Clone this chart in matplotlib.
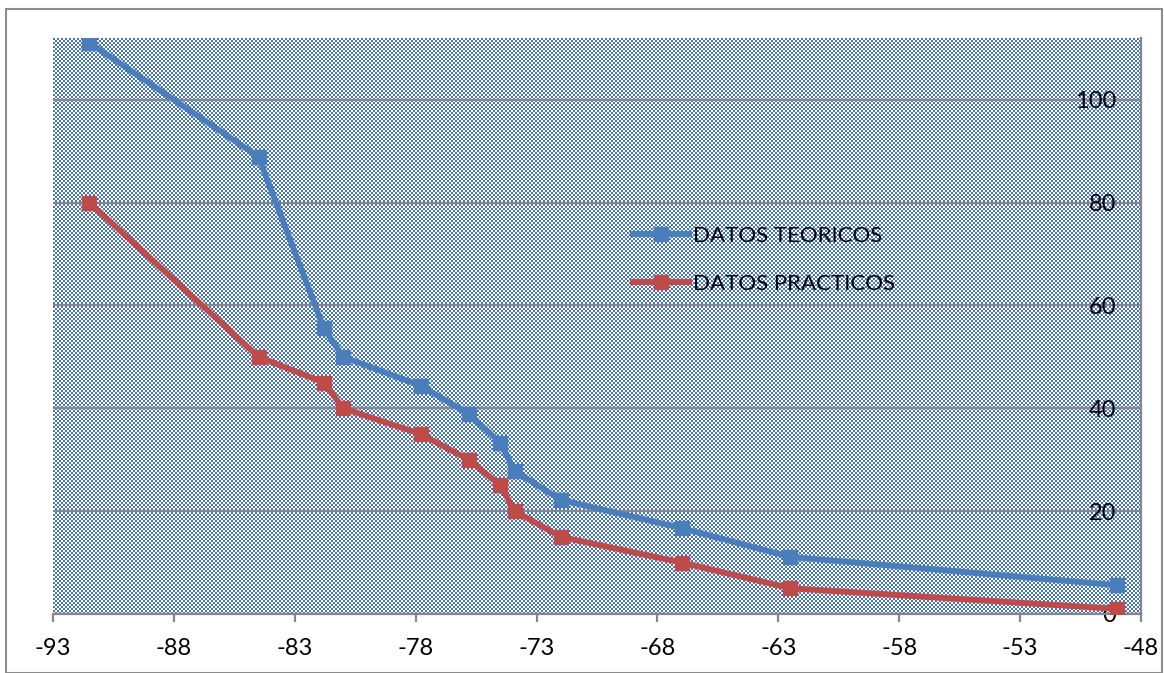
import numpy as np
import matplotlib.pyplot as plt

# readings (x in dBm-like units, y values)
x_vals = [-91.5, -84.5, -81.8, -81.0, -77.8, -75.8, -74.5, -73.9, -72.0, -67.0, -62.5, -49.0]
teoricos = [111.1, 88.9, 55.6, 50.0, 44.4, 38.9, 33.3, 27.8, 22.2, 16.7, 11.1, 5.6]
practicos = [80, 50, 45, 40, 35, 30, 25, 20, 15, 10, 5, 1]

x_ticks = list(range(-93, -47, 5))
y_ticks = [0, 20, 40, 60, 80, 100]

plt.rcParams['font.family'] = ['Lato', 'DejaVu Sans']
plt.rcParams['axes.unicode_minus'] = False

W, H = 1164, 673
fig = plt.figure(figsize=(W / 100, H / 100), dpi=100)

# plot area in pixels
px_l, px_b, px_w, px_h = 53, 59, 1088, 576
ax = fig.add_axes([px_l / W, px_b / H, px_w / W, px_h / H])
ax.patch.set_alpha(0)

# small checkerboard fill like the spreadsheet pattern
rr, cc = np.mgrid[0:px_h, 0:px_w]
mask = ((rr // 2) + (cc // 2)) % 2 == 0
pattern = np.ones((px_h, px_w, 3))
pattern[mask] = np.array([70, 116, 194]) / 255.0
fig.figimage(pattern, xo=px_l, yo=px_b, zorder=-1)

blue = '#4A7EBB'
red = '#BE4B48'
ax.plot(x_vals, teoricos, color=blue, lw=4.3, marker='s', ms=10.5, label='DATOS TEORICOS', zorder=3)
ax.plot(x_vals, practicos, color=red, lw=4.3, marker='s', ms=10.5, label='DATOS PRACTICOS', zorder=3)

ax.set_xlim(-93, -48)
ax.set_ylim(0, 112)
ax.set_xticks(x_ticks)
ax.set_yticks(y_ticks)

ax.grid(axis='y', color='#868686', lw=1.6, zorder=1)
ax.set_axisbelow(True)
for s in ['left', 'top']:
    ax.spines[s].set_visible(False)
for s in ['right', 'bottom']:
    ax.spines[s].set_color('#868686')
    ax.spines[s].set_linewidth(1.6)

ax.tick_params(axis='x', direction='out', length=6, width=1.6, color='#868686',
               labelsize=17, pad=11)
ax.yaxis.tick_right()
ax.tick_params(axis='y', length=0, labelsize=17, pad=-18)
for lab in ax.get_yticklabels():
    lab.set_horizontalalignment('right')

leg = fig.legend(loc='upper left', bbox_to_anchor=(633 / W, 1 - 226 / H), frameon=False,
                 fontsize=16, handlelength=2.5, handletextpad=0.2, labelspacing=1.25,
                 borderpad=0, borderaxespad=0)

# outer chart border
fig.patches.append(plt.Rectangle((6 / W, 0.5 / H), (W - 8) / W, (H - 9) / H,
                                 transform=fig.transFigure, fill=False,
                                 edgecolor='#8C8C8C', lw=1.5))

fig.savefig('out.png', dpi=100)
